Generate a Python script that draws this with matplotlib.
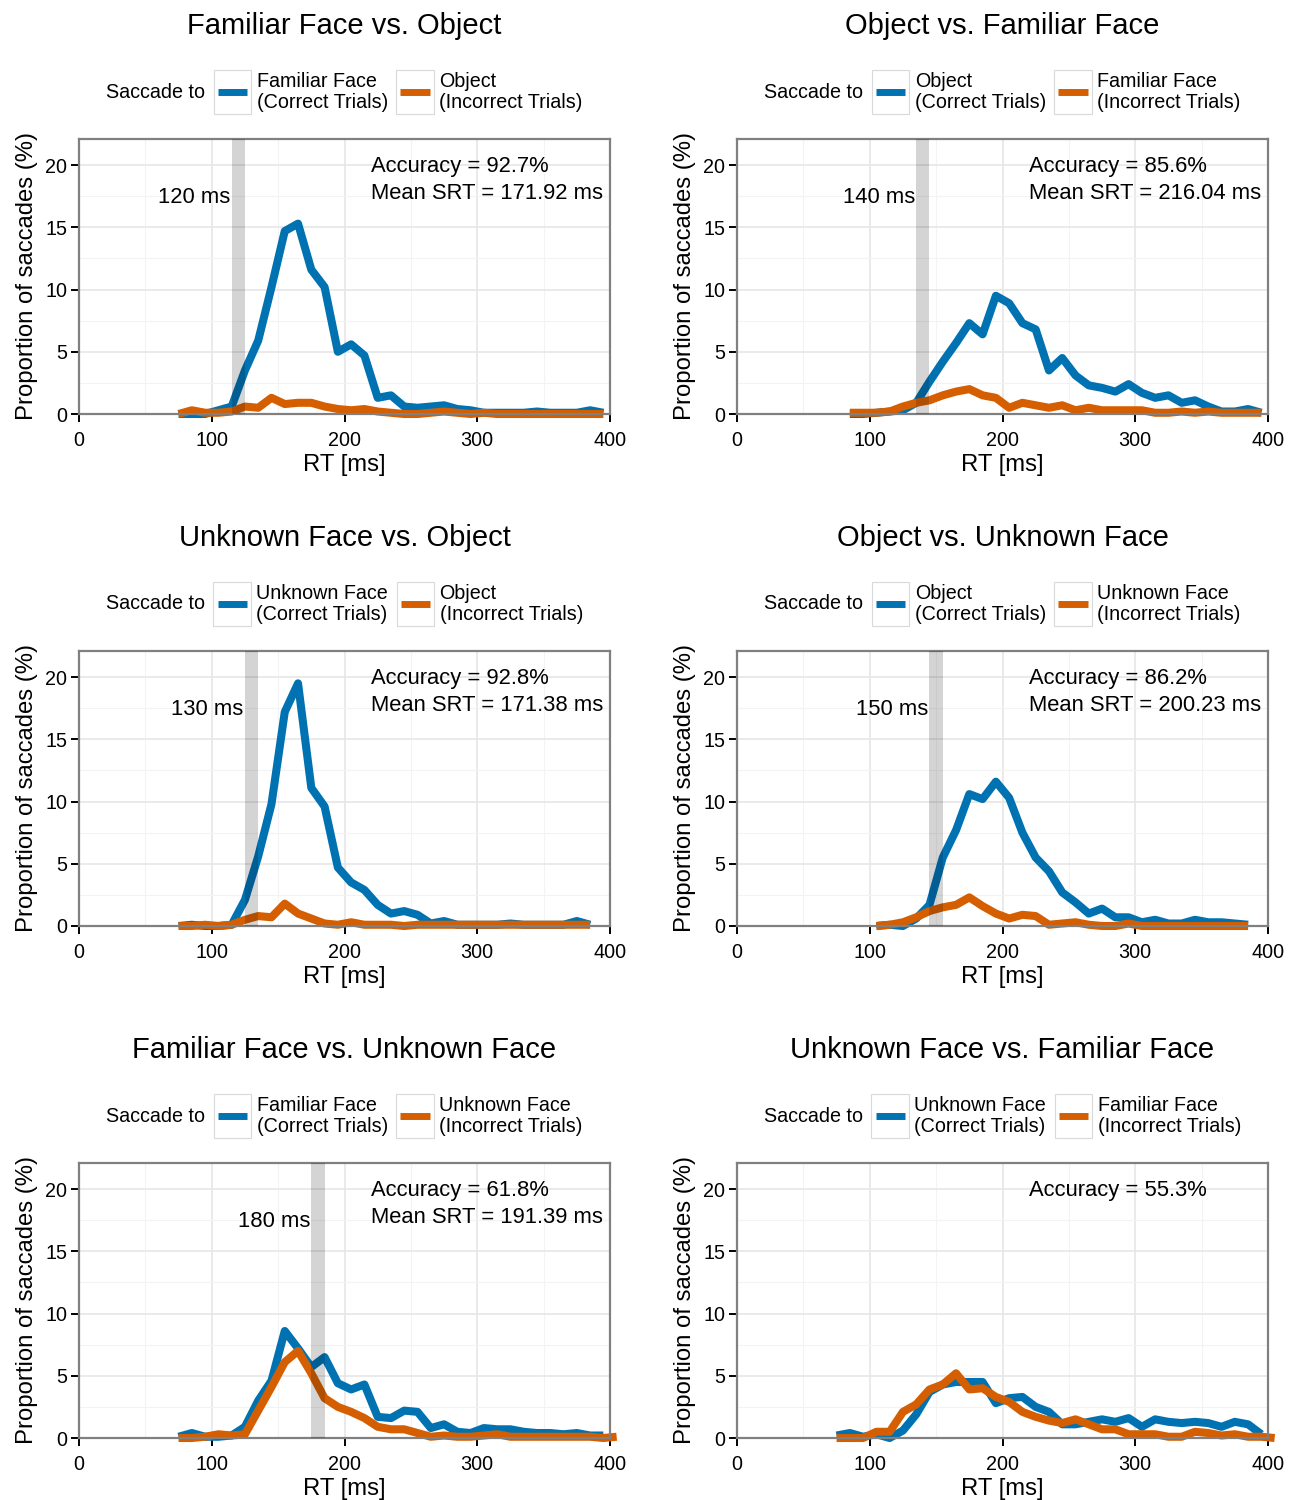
import matplotlib
matplotlib.use('Agg')
import matplotlib.pyplot as plt
from matplotlib.offsetbox import AnchoredOffsetbox, HPacker, TextArea, DrawingArea
from matplotlib.patches import Rectangle
from matplotlib.lines import Line2D

plt.rcParams['font.family'] = ['Liberation Sans', 'DejaVu Sans']

BLUE = '#0072B2'
ORANGE = '#D55E00'

# ---------------- data ----------------
titles = ['Familiar Face vs. Object', 'Object vs. Familiar Face',
          'Unknown Face vs. Object', 'Object vs. Unknown Face',
          'Familiar Face vs. Unknown Face', 'Unknown Face vs. Familiar Face']
correct_labels = ['Familiar Face\n(Correct Trials)', 'Object\n(Correct Trials)',
                  'Unknown Face\n(Correct Trials)', 'Object\n(Correct Trials)',
                  'Familiar Face\n(Correct Trials)', 'Unknown Face\n(Correct Trials)']
incorrect_labels = ['Object\n(Incorrect Trials)', 'Familiar Face\n(Incorrect Trials)',
                    'Object\n(Incorrect Trials)', 'Unknown Face\n(Incorrect Trials)',
                    'Unknown Face\n(Incorrect Trials)', 'Familiar Face\n(Incorrect Trials)']
thresholds = [120, 140, 130, 150, 180, None]
accuracy = ['92.7', '85.6', '92.8', '86.2', '61.8', '55.3']
mean_srt = ['171.92', '216.04', '171.38', '200.23', '191.39', None]

# panel 1
rt1 = list(range(75, 396, 10))
correct1 = [0, 0, 0, 0.3, 0.6, 3.5, 5.9, 10.2, 14.7, 15.3,
            11.6, 10.2, 5.0, 5.6, 4.7, 1.3, 1.5, 0.6, 0.5, 0.6,
            0.7, 0.4, 0.3, 0.1, 0.1, 0.1, 0.1, 0.2, 0.1, 0.1,
            0.1, 0.3, 0.1]
incorrect1 = [0, 0.3, 0.1, 0.1, 0.2, 0.6, 0.5, 1.3, 0.8, 0.9,
              0.9, 0.6, 0.4, 0.3, 0.4, 0.2, 0.1, 0.0, 0.0, 0.1,
              0.2, 0.1, 0.0, 0.1, 0.0, 0.0, 0.0, 0.0, 0.0, 0.0,
              0.0, 0.0, 0.0]
rt1_inc = rt1

# panel 2
rt2 = list(range(85, 396, 10))
correct2 = [0, 0, 0.1, 0.2, 0.3, 0.9, 2.6, 4.2, 5.7, 7.3,
            6.4, 9.5, 8.9, 7.3, 6.8, 3.5, 4.5, 3.1, 2.3, 2.1,
            1.8, 2.4, 1.7, 1.3, 1.5, 0.9, 1.1, 0.6, 0.2, 0.2,
            0.4, 0.1]
incorrect2 = [0.1, 0.1, 0.1, 0.2, 0.6, 0.9, 1.1, 1.5, 1.8, 2.0,
              1.5, 1.3, 0.5, 0.9, 0.7, 0.5, 0.7, 0.3, 0.5, 0.3,
              0.3, 0.3, 0.3, 0.1, 0.1, 0.2, 0.1, 0.2, 0.1, 0.1,
              0.1, 0.1]
rt2_inc = rt2

# panel 3
rt3 = list(range(75, 386, 10))
correct3 = [0, 0.1, 0, 0, 0.1, 2.1, 5.6, 9.8, 17.2, 19.5,
            11.1, 9.6, 4.7, 3.5, 2.9, 1.7, 1.0, 1.2, 0.9, 0.2,
            0.4, 0.1, 0.1, 0.1, 0.1, 0.2, 0.1, 0.1, 0.1, 0.1,
            0.4, 0.1]
incorrect3 = [0, 0, 0.1, 0, 0.1, 0.5, 0.8, 0.7, 1.8, 1.0,
              0.6, 0.2, 0.1, 0.3, 0.1, 0.1, 0.1, 0, 0.1, 0.1,
              0.1, 0.1, 0.1, 0.1, 0.1, 0.1, 0.1, 0.1, 0.1, 0.1,
              0.1, 0.1]
rt3_inc = rt3

# panel 4
rt4 = list(range(105, 386, 10))
correct4 = [0, 0.1, 0, 0.6, 1.7, 5.5, 7.7, 10.6, 10.2, 11.6,
            10.3, 7.5, 5.5, 4.4, 2.7, 1.9, 1.0, 1.4, 0.7, 0.7,
            0.3, 0.5, 0.2, 0.2, 0.5, 0.3, 0.3, 0.2, 0.1]
incorrect4 = [0, 0.1, 0.3, 0.7, 1.2, 1.5, 1.7, 2.3, 1.6, 1.0,
              0.6, 0.9, 0.8, 0.1, 0.2, 0.3, 0.1, 0, 0, 0.2,
              0, 0, 0, 0, 0, 0, 0, 0, 0]
rt4_inc = rt4

# panel 5
rt5 = list(range(75, 396, 10))
correct5 = [0.1, 0.4, 0.1, 0.1, 0.2, 0.9, 3.0, 4.6, 8.6, 7.2,
            5.7, 6.5, 4.4, 3.9, 4.3, 1.7, 1.6, 2.2, 2.1, 0.8,
            1.1, 0.5, 0.4, 0.8, 0.7, 0.7, 0.5, 0.4, 0.4, 0.3,
            0.4, 0.2, 0.2]
rt5_inc = list(range(75, 406, 10))
incorrect5 = [0, 0, 0.1, 0.3, 0.2, 0.3, 2.2, 4.1, 6.1, 7.0,
              5.2, 3.2, 2.5, 2.1, 1.6, 0.9, 0.7, 0.7, 0.4, 0.1,
              0.2, 0.1, 0.1, 0.2, 0.3, 0.1, 0.1, 0.1, 0.1, 0.1,
              0.1, 0.1, 0.0, 0.1]

# panel 6
rt6 = list(range(75, 396, 10))
correct6 = [0.2, 0.4, 0.1, 0.3, 0, 0.6, 1.9, 3.7, 4.3, 4.5,
            4.5, 4.5, 2.8, 3.2, 3.3, 2.5, 2.1, 1.1, 1.1, 1.3,
            1.5, 1.3, 1.6, 0.9, 1.5, 1.3, 1.2, 1.3, 1.2, 0.9,
            1.3, 1.1, 0.3]
rt6_inc = list(range(75, 406, 10))
incorrect6 = [0, 0, 0, 0.5, 0.5, 2.1, 2.7, 3.9, 4.3, 5.2,
              3.9, 4.0, 3.3, 2.9, 2.1, 1.7, 1.4, 1.2, 1.5, 1.1,
              0.7, 0.7, 0.3, 0.3, 0.3, 0.1, 0.1, 0.5, 0.4, 0.2,
              0.3, 0.1, 0.1, 0.0]

panels = [(rt1, correct1, rt1_inc, incorrect1),
          (rt2, correct2, rt2_inc, incorrect2),
          (rt3, correct3, rt3_inc, incorrect3),
          (rt4, correct4, rt4_inc, incorrect4),
          (rt5, correct5, rt5_inc, incorrect5),
          (rt6, correct6, rt6_inc, incorrect6)]

# ---------------- layout ----------------
W, H = 1290, 1500
fig = plt.figure(figsize=(W / 100, H / 100), dpi=100)
col_left = [79, 737]
row_bottom = [414, 926, 1438]
ax_w, ax_h = 531, 275

FS_TITLE = 21
FS_LAB = 17.2
FS_TICK = 14.2
FS_ANN = 15.8
FS_LEG = 14.2


def legend_key(color):
    da = DrawingArea(27, 31, 0, 0)
    da.add_artist(Rectangle((0, 0), 27, 31, facecolor='white',
                            edgecolor='#d9d9d9', lw=0.8))
    da.add_artist(Line2D([3, 24], [15.5, 15.5], color=color, lw=5,
                         solid_capstyle='butt'))
    return da


for i in range(6):
    r, c = divmod(i, 2)
    left = col_left[c] / W
    bottom = 1 - row_bottom[r] / H
    ax = fig.add_axes([left, bottom, ax_w / W, ax_h / H])
    ax.set_xlim(0, 400)
    ax.set_ylim(0, 22.1)
    ax.set_xticks([0, 100, 200, 300, 400])
    ax.set_yticks([0, 5, 10, 15, 20])
    ax.set_xticks([50, 150, 250, 350], minor=True)
    ax.set_yticks([2.5, 7.5, 12.5, 17.5], minor=True)
    ax.grid(which='major', color='#e6e6e6', lw=1.2)
    ax.grid(which='minor', color='#f3f3f3', lw=0.8)
    ax.set_axisbelow(True)
    for s in ax.spines.values():
        s.set_color('#808080')
        s.set_linewidth(1.6)
    ax.tick_params(which='major', direction='out', length=5.5, width=1.4,
                   color='black', labelsize=FS_TICK)
    ax.tick_params(axis='x', which='major', pad=6.5)
    ax.tick_params(axis='y', which='major', pad=3)
    ax.tick_params(which='minor', length=0)
    ax.set_xlabel('RT [ms]', fontsize=FS_LAB, labelpad=3)
    ax.set_ylabel('Proportion of saccades (%)', fontsize=FS_LAB, labelpad=5)

    xc, yc, xi, yi = panels[i]
    ax.plot(xc, yc, color=BLUE, lw=5.8, clip_on=False,
            solid_capstyle='butt', solid_joinstyle='round', zorder=2)
    ax.plot(xi, yi, color=ORANGE, lw=5.8, clip_on=False,
            solid_capstyle='butt', solid_joinstyle='round', zorder=2.1)

    thr = thresholds[i]
    if thr is not None:
        ax.axvspan(thr - 5, thr + 5, color='black', alpha=0.17, lw=0, zorder=3)
        ax.text(thr - 6, 17.4, f'{thr} ms', ha='right', va='center',
                fontsize=FS_ANN)
    ax.text(220, 19.9, f'Accuracy = {accuracy[i]}%', ha='left', va='center',
            fontsize=FS_ANN)
    if mean_srt[i] is not None:
        ax.text(220, 17.75, f'Mean SRT = {mean_srt[i]} ms', ha='left',
                va='center', fontsize=FS_ANN)

    # title
    fig.text(left + ax_w / W / 2, 1 - (row_bottom[r] - ax_h - 113) / H,
             titles[i], ha='center', va='center', fontsize=FS_TITLE)

    # legend
    tprops = dict(fontsize=FS_LEG, linespacing=1.12)
    e1 = HPacker(children=[legend_key(BLUE), TextArea(correct_labels[i], textprops=tprops)],
                 sep=4, pad=0, align='center')
    e2 = HPacker(children=[legend_key(ORANGE), TextArea(incorrect_labels[i], textprops=tprops)],
                 sep=4, pad=0, align='center')
    row = HPacker(children=[TextArea('Saccade to', textprops=dict(fontsize=FS_LEG)), e1, e2],
                  sep=6, pad=0, align='center')
    ab = AnchoredOffsetbox(loc='center', child=row, pad=0, borderpad=0,
                           frameon=False, bbox_to_anchor=(0.5, (ax_h + 47) / ax_h),
                           bbox_transform=ax.transAxes)
    ax.add_artist(ab)

fig.savefig('out.png', dpi=100)
